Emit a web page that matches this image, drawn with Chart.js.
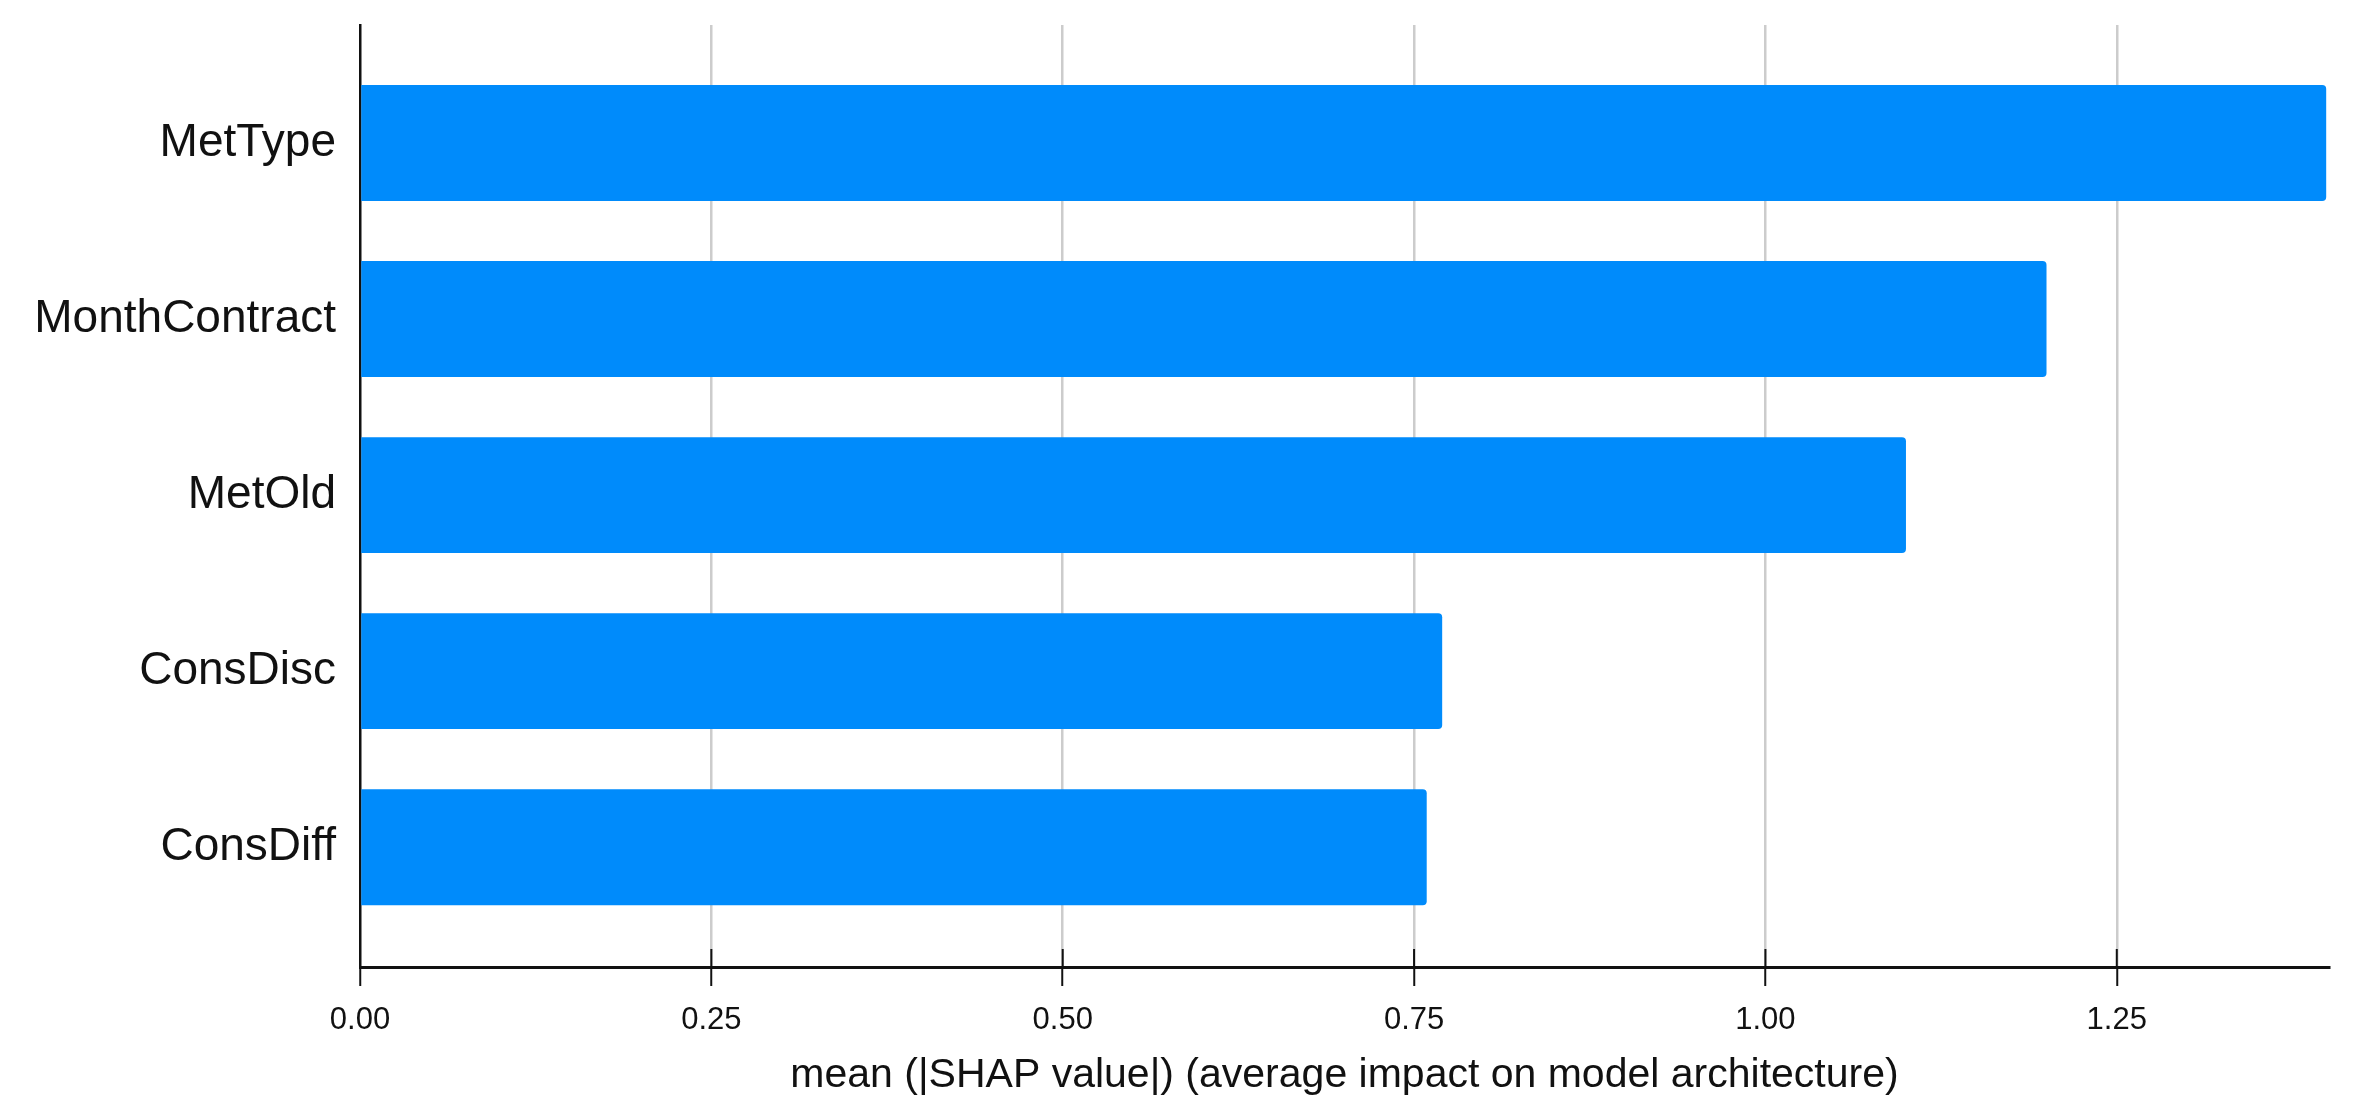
<!DOCTYPE html>
<html lang="en">

<head>
    <meta charset="UTF-8">
    <title>SHAP bar</title>
    <style>
        body { margin: 0; background: #fff; }
    </style>
</head>

<body>
    <canvas id="myChart" width="2365" height="1115"></canvas>

    <script src="https://cdn.jsdelivr.net/npm/chart.js"></script>

    <script>
        // datos
        const features = ['MetType', 'MonthContract', 'MetOld', 'ConsDisc', 'ConsDiff']
        const meanShap = [1.399, 1.20, 1.10, 0.77, 0.759]
        const xTicks = [0, 0.25, 0.5, 0.75, 1.0, 1.25]
        const xTitle = 'mean (|SHAP value|) (average impact on model architecture)'

        const font = 'Liberation Sans, Arial, sans-serif'
        const axisColor = '#111'

        // marcas del eje x que suben por encima de la linea
        const tickMarks = {
            id: 'tickMarks',
            afterDatasetsDraw(chart) {
                const x = chart.scales.x
                const ctx = chart.ctx
                ctx.save()
                ctx.strokeStyle = axisColor
                ctx.lineWidth = 2
                x.ticks.forEach(t => {
                    const px = x.getPixelForValue(t.value)
                    ctx.beginPath()
                    ctx.moveTo(px, x.top - 18)
                    ctx.lineTo(px, x.top)
                    ctx.stroke()
                })
                ctx.restore()
            }
        }

        const ctx = document.getElementById('myChart')
        new Chart(ctx, {
            type: 'bar',
            data: {
                datasets: [{
                    data: features.map((f, i) => ({ x: meanShap[i], y: i })),
                    backgroundColor: '#008bfb',
                    borderRadius: 4,
                    categoryPercentage: 1,
                    barPercentage: 0.658
                }]
            },
            options: {
                indexAxis: 'y',
                responsive: false,
                devicePixelRatio: 1,
                animation: false,
                layout: { padding: { top: 25, right: 36, left: 0, bottom: 0 } },
                plugins: { legend: { display: false }, tooltip: { enabled: false } },
                scales: {
                    x: {
                        type: 'linear',
                        position: 'bottom',
                        min: 0,
                        max: 1.401,
                        afterBuildTicks: s => { s.ticks = xTicks.map(v => ({ value: v })) },
                        afterFit: s => { s.height = 148 },
                        grid: {
                            color: c => (c.tick && c.tick.value === 0) ? 'rgba(0,0,0,0)' : '#cccccc',
                            lineWidth: 2.5,
                            tickColor: axisColor,
                            tickLength: 19,
                            tickWidth: 2
                        },
                        border: { display: true, color: axisColor, width: 3 },
                        ticks: {
                            font: { family: font, size: 31 },
                            color: axisColor,
                            padding: 16,
                            maxRotation: 0,
                            callback: v => v.toFixed(2)
                        },
                        title: {
                            display: true,
                            text: xTitle,
                            font: { family: font, size: 41 },
                            color: axisColor,
                            padding: { top: 0, bottom: 15 }
                        }
                    },
                    y: {
                        type: 'linear',
                        reverse: true,
                        offset: false,
                        min: -0.67,
                        max: 4.68,
                        afterBuildTicks: s => { s.ticks = features.map((f, i) => ({ value: i })) },
                        afterFit: s => {
                            s.width = 360
                            s.paddingTop = 0
                            s.paddingBottom = 0
                        },
                        grid: { display: false, drawTicks: false, offset: false },
                        border: { display: true, color: axisColor, width: 2.5 },
                        ticks: {
                            font: { family: font, size: 46 },
                            color: axisColor,
                            padding: 24,
                            callback: v => features[v]
                        }
                    }
                }
            },
            plugins: [tickMarks]
        })
    </script>

</body>

</html>
